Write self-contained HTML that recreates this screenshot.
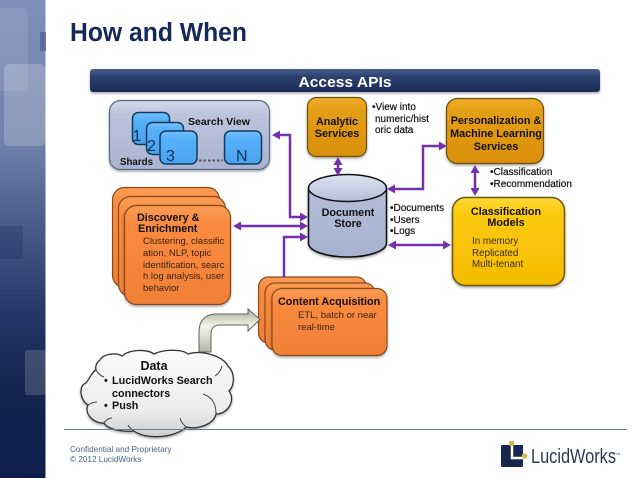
<!DOCTYPE html>
<html><head><meta charset="utf-8"><style>
html,body{margin:0;padding:0;background:#fff;width:638px;height:479px;overflow:hidden}
svg{display:block;filter:blur(.3px)}
text{font-family:"Liberation Sans",sans-serif}
.b{font-weight:bold;fill:#111}
</style></head><body>
<svg width="638" height="479" viewBox="0 0 638 479" xmlns="http://www.w3.org/2000/svg">
<defs>
<linearGradient id="strip" x1="0" y1="0" x2="0" y2="1"><stop offset="0" stop-color="#7f8fb9"/><stop offset=".3" stop-color="#6f80aa"/><stop offset=".45" stop-color="#4f608e"/><stop offset=".65" stop-color="#263868"/><stop offset=".8" stop-color="#14254f"/><stop offset="1" stop-color="#0f1f4d"/></linearGradient>
<linearGradient id="bar" x1="0" y1="0" x2="0" y2="1"><stop offset="0" stop-color="#4a5e8c"/><stop offset=".35" stop-color="#2b3f6d"/><stop offset="1" stop-color="#1a2c55"/></linearGradient>
<linearGradient id="sv" x1="0" y1="0" x2="0" y2="1"><stop offset="0" stop-color="#d4d9ea"/><stop offset=".2" stop-color="#bcc4dc"/><stop offset="1" stop-color="#aab3cf"/></linearGradient>
<linearGradient id="sh" x1="0" y1="0" x2="0" y2="1"><stop offset="0" stop-color="#74c0ff"/><stop offset=".25" stop-color="#55b0fa"/><stop offset="1" stop-color="#4aa2ee"/></linearGradient>
<linearGradient id="am" x1="0" y1="0" x2="0" y2="1"><stop offset="0" stop-color="#eeac2b"/><stop offset=".2" stop-color="#e59f14"/><stop offset="1" stop-color="#d98f0c"/></linearGradient>
<linearGradient id="ye" x1="0" y1="0" x2="0" y2="1"><stop offset="0" stop-color="#ffd83a"/><stop offset=".2" stop-color="#fdc909"/><stop offset="1" stop-color="#f5bb05"/></linearGradient>
<linearGradient id="or" x1="0" y1="0" x2="0" y2="1"><stop offset="0" stop-color="#fb9c55"/><stop offset=".2" stop-color="#f98a3e"/><stop offset="1" stop-color="#f08038"/></linearGradient>
<linearGradient id="cy" x1="0" y1="0" x2="0" y2="1"><stop offset="0" stop-color="#b3bed8"/><stop offset="1" stop-color="#a6b3d0"/></linearGradient>
<linearGradient id="cyt" x1="0" y1="0" x2="0" y2="1"><stop offset="0" stop-color="#dde3f0"/><stop offset="1" stop-color="#b3bfd9"/></linearGradient>
<linearGradient id="cl" x1="0" y1="0" x2="0" y2="1"><stop offset="0" stop-color="#fbfbfb"/><stop offset=".7" stop-color="#ececec"/><stop offset="1" stop-color="#cfcfcf"/></linearGradient>
<linearGradient id="ar" x1="0" y1="0" x2="0" y2="1"><stop offset="0" stop-color="#a9ad98"/><stop offset=".4" stop-color="#f4f5ee"/><stop offset="1" stop-color="#b5b8a5"/></linearGradient>
<filter id="sd" x="-10%" y="-10%" width="120%" height="125%"><feDropShadow dx="0" dy="1.5" stdDeviation="1.2" flood-color="#000" flood-opacity=".35"/></filter>
</defs>

<!-- left strip -->
<rect x="0" y="0" width="45.5" height="478" fill="url(#strip)"/>
<rect x="-5" y="8" width="33" height="83" rx="5" fill="#fff" opacity=".1"/>
<rect x="40" y="32" width="6" height="19" fill="#53659a" opacity=".8"/>
<rect x="4" y="64" width="41.5" height="82" rx="5" fill="#fff" opacity=".2"/>
<rect x="0" y="226" width="23" height="33" rx="2" fill="#1f3060" opacity=".35"/>
<rect x="25" y="350" width="20.5" height="45" rx="2" fill="#fff" opacity=".16"/>

<!-- title -->
<text x="70" y="41" font-size="25.5" font-weight="bold" fill="#14295a" textLength="177" lengthAdjust="spacingAndGlyphs">How and When</text>

<!-- access bar -->
<rect x="90" y="69" width="510" height="23" rx="3" fill="url(#bar)" filter="url(#sd)"/>
<text x="345" y="87" font-size="14.500" font-weight="bold" fill="#fff" text-anchor="middle" textLength="93" lengthAdjust="spacingAndGlyphs">Access APIs</text>

<!-- search view -->
<rect x="109.500" y="100.500" width="160" height="69" rx="11" fill="url(#sv)" stroke="#5d6980" stroke-width="1.2" filter="url(#sd)"/>
<g stroke="#123a5c" stroke-width="1.5" fill="url(#sh)">
<rect x="132.500" y="112.500" width="37" height="32" rx="6"/>
<rect x="146.500" y="122.500" width="37" height="32" rx="6"/>
<rect x="160" y="131" width="37" height="33" rx="6"/>
<rect x="224.500" y="131" width="37" height="33" rx="6"/>
</g>
<line x1="199" y1="160.500" x2="223" y2="160.500" stroke="#555" stroke-width="2" stroke-dasharray="2.500 2"/>
<g font-size="16" fill="#12315a">
<text x="132.500" y="141">1</text><text x="147" y="151">2</text><text x="166" y="161">3</text><text x="236" y="161">N</text>
</g>
<text x="188" y="125" font-size="10.500" class="b" textLength="62" lengthAdjust="spacingAndGlyphs">Search View</text>
<text x="120" y="165" font-size="10.500" class="b" textLength="33" lengthAdjust="spacingAndGlyphs">Shards</text>

<!-- analytic -->
<rect x="307.500" y="97.500" width="59" height="59" rx="9" fill="url(#am)" stroke="#6e4f10" stroke-width="1.2" filter="url(#sd)"/>
<text class="b" font-size="10.800" text-anchor="middle"><tspan x="337" y="125">Analytic</tspan><tspan x="337" y="137">Services</tspan></text>
<text font-size="10" fill="#111" stroke="#111" stroke-width=".2"><tspan x="372" y="110">•View into</tspan><tspan x="375" y="122">numeric/hist</tspan><tspan x="375" y="133">oric data</tspan></text>

<!-- personalization -->
<rect x="446.500" y="98.500" width="97" height="65" rx="11" fill="url(#am)" stroke="#6e4f10" stroke-width="1.2" filter="url(#sd)"/>
<text class="b" font-size="10.800" text-anchor="middle"><tspan x="496" y="124">Personalization &amp;</tspan><tspan x="496" y="137">Machine Learning</tspan><tspan x="496" y="150">Services</tspan></text>
<text font-size="10" fill="#111" stroke="#111" stroke-width=".2"><tspan x="490" y="175">•Classification</tspan><tspan x="490" y="187">•Recommendation</tspan></text>

<!-- classification -->
<rect x="452.500" y="197.500" width="112" height="88" rx="13" fill="url(#ye)" stroke="#6d5a10" stroke-width="1.5" filter="url(#sd)"/>
<text class="b" font-size="10.800" text-anchor="middle"><tspan x="506" y="215">Classification</tspan><tspan x="506" y="226">Models</tspan></text>
<text font-size="9.800" fill="#3a3010"><tspan x="472" y="244">In memory</tspan><tspan x="472" y="256">Replicated</tspan><tspan x="472" y="267">Multi-tenant</tspan></text>

<!-- cylinder -->
<path d="M308.500 188V243C308.500 251 326 257 347.500 257C369 257 386.500 251 386.500 243V188Z" fill="url(#cy)" stroke="#111" stroke-width="1.5" filter="url(#sd)"/>
<ellipse cx="347.500" cy="188" rx="39" ry="13.500" fill="url(#cyt)" stroke="#111" stroke-width="1.5"/>
<text class="b" font-size="10.800" text-anchor="middle"><tspan x="348" y="216">Document</tspan><tspan x="348" y="227">Store</tspan></text>
<text font-size="10" fill="#111" stroke="#111" stroke-width=".2"><tspan x="390" y="211">•Documents</tspan><tspan x="390" y="223">•Users</tspan><tspan x="390" y="234">•Logs</tspan></text>

<!-- discovery stack -->
<g fill="url(#or)" stroke="#8a4a1a" stroke-width="1.2">
<rect x="112.500" y="187.500" width="107" height="100" rx="12"/>
<rect x="118.500" y="196.500" width="107" height="100" rx="12"/>
<rect x="124.500" y="205.500" width="106" height="99" rx="12" filter="url(#sd)"/>
</g>
<text class="b" font-size="10.800"><tspan x="137" y="221">Discovery &amp;</tspan><tspan x="138" y="232">Enrichment</tspan></text>
<text font-size="9.500" fill="#3d2410"><tspan x="143" y="244">Clustering, classific</tspan><tspan x="143" y="256">ation, NLP, topic</tspan><tspan x="143" y="268">identification, searc</tspan><tspan x="143" y="279">h log analysis, user</tspan><tspan x="143" y="291">behavior</tspan></text>

<!-- content acquisition stack -->
<g fill="url(#or)" stroke="#8a4a1a" stroke-width="1.2">
<rect x="258.500" y="277" width="108" height="66" rx="10"/>
<rect x="265" y="283" width="110" height="67" rx="10"/>
<rect x="272" y="288.500" width="115" height="67" rx="10" filter="url(#sd)"/>
</g>
<text x="278" y="305" font-size="10.800" class="b">Content Acquisition</text>
<text font-size="9.500" fill="#3d2410"><tspan x="298" y="318">ETL, batch or near</tspan><tspan x="298" y="330">real-time</tspan></text>

<!-- big arrow -->
<path d="M199 352V332C199 320 206 314 216 314H248V309L260 319.500L248 331V325H220C214 325 211 328 211 334V352Z" fill="url(#ar)" stroke="#5f6358" stroke-width="1"/>

<!-- cloud -->
<path d="M100 360C103 354 116 352 122 356C130 349 147 349 154 354C164 349 182 349 188 354C200 350 222 355 228 366C236 374 234 386 229 391C236 400 228 414 216 414C214 424 198 430 186 427C176 438 146 440 134 431C124 432 108 430 104 423C94 424 84 414 88 405C80 400 78 386 86 383C90 378 92 372 96 370C95 366 97 362 100 360Z" fill="url(#cl)" stroke="#333" stroke-width="1.3" filter="url(#sd)"/>
<path d="M96 370C98 374 101 376 104 377M222 366C221 371 218 374 215 376M203 394C211 397 216 402 216 414M186 427C183 424 181 422 180 418M134 431C131 429 129 427 128 425M104 423C106 420 109 418 112 418M88 405C91 403 94 402 97 402" fill="none" stroke="#444" stroke-width="1"/>
<text x="154" y="370" font-size="12.500" class="b" text-anchor="middle">Data</text>
<text class="b" font-size="10.800"><tspan x="104" y="384">•</tspan><tspan x="112" y="384">LucidWorks Search</tspan><tspan x="112" y="397">connectors</tspan><tspan x="104" y="409">•</tspan><tspan x="112" y="409">Push</tspan></text>

<!-- purple connectors -->
<g fill="none" stroke="#7530ad" stroke-width="2.500">
<path d="M276 135H290V217H303"/>
<path d="M237 226H303"/>
<path d="M284 277V237H303"/>
<path d="M338 161V172"/>
<path d="M442 146H423V189H392"/>
<path d="M475 170V192"/>
<path d="M393 245H447"/>
</g>
<g fill="#7530ad">
<path d="M272 135L280 130.500V139.500Z"/>
<path d="M308 217L300 212.500V221.500Z"/>
<path d="M233 226L241 221.500V230.500Z"/><path d="M308 226L300 221.500V230.500Z"/>
<path d="M308 237L300 232.500V241.500Z"/>
<path d="M338 157L333.500 165H342.500Z"/><path d="M338 176L333.500 168H342.500Z"/>
<path d="M447 146L439 141.500V150.500Z"/><path d="M387 189L395 184.500V193.500Z"/>
<path d="M475 165L470.500 173H479.500Z"/><path d="M475 196L470.500 188H479.500Z"/>
<path d="M388 245L396 240.500V249.500Z"/><path d="M451 245L443 240.500V249.500Z"/>
</g>

<!-- footer -->
<line x1="64" y1="429.500" x2="627" y2="429.500" stroke="#6f7c8c" stroke-width="1"/>
<text font-size="8.200" fill="#4c5f86"><tspan x="70" y="452">Confidential and Proprietary</tspan><tspan x="70" y="462">© 2012 LucidWorks</tspan></text>

<!-- logo -->
<rect x="501" y="445" width="22" height="22" rx="1.500" fill="#16274f"/>
<path d="M514 445H519V451H523V458H527V467H514Z" fill="#fff" opacity="0"/>
<path d="M512 443V458H524" fill="none" stroke="#fff" stroke-width="2.500"/>
<path d="M515 445H523V455H515Z" fill="#16274f"/>
<rect x="509" y="441" width="5" height="5" rx="1" fill="#dcb24a"/>
<circle cx="524.500" cy="456" r="2.800" fill="#dcb24a"/>
<text x="531" y="463" font-size="20" fill="#2c3a52" textLength="85" lengthAdjust="spacingAndGlyphs">LucidWorks</text>
<text x="616" y="455" font-size="3" fill="#2c3a52">TM</text>
</svg>
</body></html>
